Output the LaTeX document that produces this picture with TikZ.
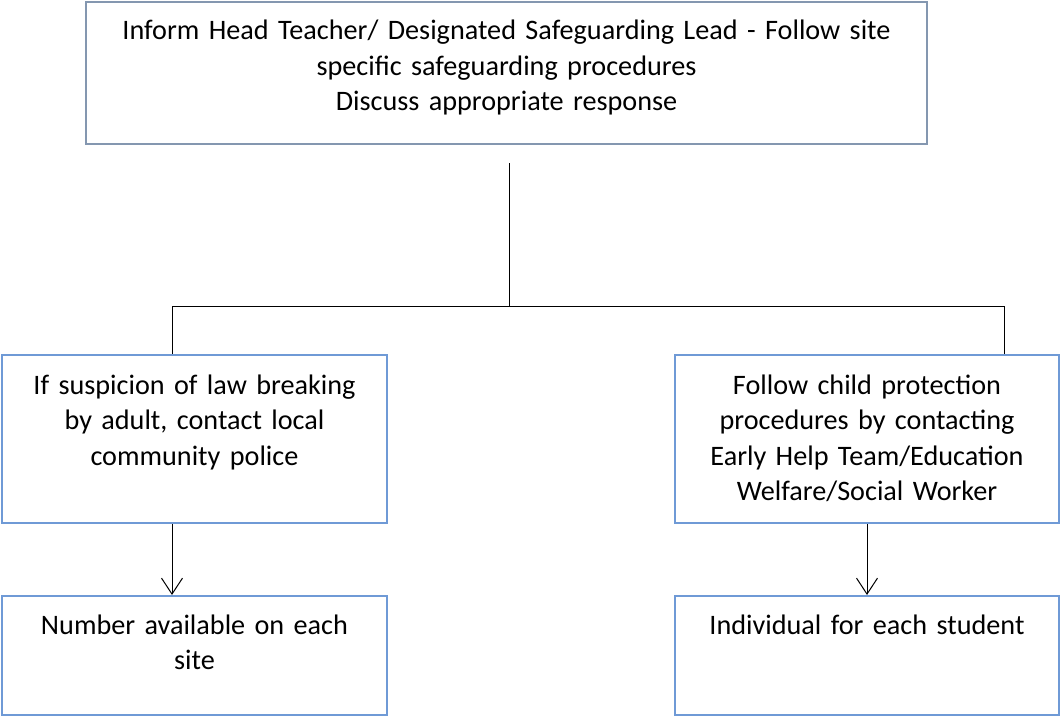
\documentclass[tikz,border=0pt]{standalone}
\usepackage{fontspec}
\setmainfont{Carlito}
\usetikzlibrary{arrows.meta}
\definecolor{topedge}{HTML}{8497B0}
\definecolor{boxedge}{HTML}{6F9AD6}
\begin{document}
\begin{tikzpicture}[x=1pt,y=-1pt,
  box/.style={draw=boxedge,line width=2pt,rectangle,inner sep=0pt},
  topbox/.style={draw=topedge,line width=2pt,rectangle,inner sep=0pt},
  txt/.style={anchor=base,align=center,inner sep=0pt,font=\fontsize{28.2}{35.5}\selectfont,text width=#1},
  conn/.style={draw=black,line width=1pt},
  arr/.style={conn,-{Straight Barb[length=16pt,width=21pt,line width=1pt]}}]
\useasboundingbox (0,0) rectangle (1060,717);
% boxes
\node[topbox,minimum width=841pt,minimum height=142pt] (top) at (506.5,73) {};
\node[box,minimum width=385pt,minimum height=168pt] (ml) at (194.5,439) {};
\node[box,minimum width=384pt,minimum height=168pt] (mr) at (867,439) {};
\node[box,minimum width=385pt,minimum height=119pt] (bl) at (194.5,655.5) {};
\node[box,minimum width=384pt,minimum height=119pt] (br) at (867,655.5) {};
% texts
\node[txt=830pt] (ttop) at (506.5,40) {Inform Head Teacher/ Designated Safeguarding Lead - Follow site\\specific safeguarding procedures\\Discuss appropriate response};
\node[txt=380pt] (tml) at (194.5,394) {If suspicion of law breaking\\by adult, contact local\\community police};
\node[txt=380pt] (tmr) at (867,394) {Follow child protection\\procedures by contacting\\Early Help Team/Education\\Welfare/Social Worker};
\node[txt=380pt] (tbl) at (194.5,634) {Number available on each\\site};
\node[txt=380pt] (tbr) at (867,634) {Individual for each student};
% connectors
\coordinate (stem) at (509,163);
\coordinate (junc) at (509,306);
\coordinate (jl) at (172,306);
\coordinate (jr) at (1004,306);
\draw[conn] (stem) -- (junc);
\draw[conn] (jl) -- (jr);
\draw[conn] (jl) -- (jl |- ml.north);
\draw[conn] (jr) -- (jr |- mr.north);
\draw[arr] (ml.south -| jl) -- (bl.north -| jl);
\draw[arr] (mr.south) -- (br.north);
\end{tikzpicture}
\end{document}
